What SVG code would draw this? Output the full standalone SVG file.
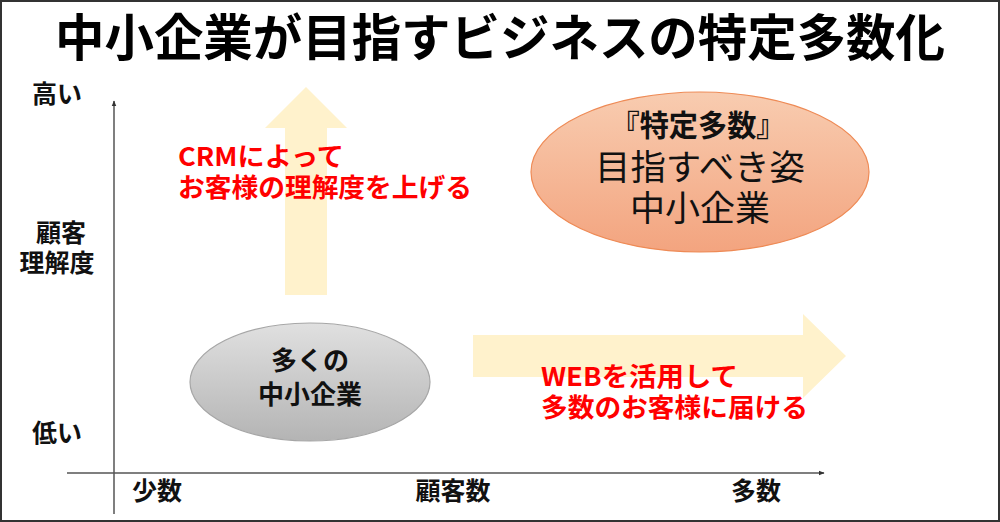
<svg xmlns="http://www.w3.org/2000/svg" width="1000" height="522" viewBox="0 0 1000 522">
  <defs>
    <linearGradient id="gOrange" x1="0" y1="0" x2="0" y2="1">
      <stop offset="0" stop-color="#F8CCB0"/>
      <stop offset="1" stop-color="#F3A47F"/>
    </linearGradient>
    <linearGradient id="gGray" x1="0" y1="0" x2="0" y2="1">
      <stop offset="0" stop-color="#E0E0E0"/>
      <stop offset="1" stop-color="#B4B4B4"/>
    </linearGradient>
    <marker id="ah" viewBox="0 0 10 10" refX="9" refY="5" markerWidth="6" markerHeight="6" orient="auto" markerUnits="userSpaceOnUse">
      <path d="M0,1 L10,5 L0,9 Z" fill="#333"/>
    </marker>
    <style>
      text { font-family: "Noto Sans CJK JP", "Liberation Sans", sans-serif; }
      .lbl { font-size: 25px; font-weight: bold; fill: #111; text-anchor: middle; }
      .red { font-size: 26px; font-weight: bold; fill: #FF0000; }
      .ell { font-size: 26px; font-weight: bold; fill: #111; text-anchor: middle; }
      .big { font-size: 35px; fill: #111; text-anchor: middle; }
      .axis { stroke: #555; stroke-width: 1.5; fill: none; }
      .fat { fill: #FFF2CC; }
    </style>
  </defs>
  <rect x="0" y="0" width="1000" height="522" fill="#FFFFFF"/>
  <rect x="1" y="1" width="998" height="520" fill="none" stroke="#333" stroke-width="2"/>

  <text x="500" y="56" text-anchor="middle" font-size="50" font-weight="bold" fill="#000" textLength="890" lengthAdjust="spacingAndGlyphs">中小企業が目指すビジネスの特定多数化</text>

  <g id="bigArrows">
    <path class="fat" d="M285,295 L285,128 L265,128 L306,87 L347,128 L327,128 L327,295 Z"/>
    <path class="fat" d="M473,335 L803,335 L803,314 L846,356 L803,398 L803,377 L473,377 Z"/>
  </g>

  <g id="connectors">
    <line class="axis" x1="114" y1="514" x2="114" y2="101" marker-end="url(#ah)"/>
    <line class="axis" x1="67" y1="473" x2="824" y2="473" marker-end="url(#ah)"/>
  </g>

  <g id="axisLabels">
    <text class="lbl" x="57" y="103">高い</text>
    <text class="lbl" x="61" y="242">顧客</text>
    <text class="lbl" x="57" y="272">理解度</text>
    <text class="lbl" x="57" y="442">低い</text>
    <text class="lbl" x="157" y="500">少数</text>
    <text class="lbl" x="453" y="500">顧客数</text>
    <text class="lbl" x="756" y="500">多数</text>
  </g>

  <g id="crmText">
    <text class="red" x="178" y="166" textLength="166" lengthAdjust="spacingAndGlyphs">CRMによって</text>
    <text class="red" x="178" y="197" textLength="294" lengthAdjust="spacingAndGlyphs">お客様の理解度を上げる</text>
  </g>

  <g id="webText">
    <text class="red" x="541" y="386" textLength="197" lengthAdjust="spacingAndGlyphs">WEBを活用して</text>
    <text class="red" x="541" y="417" textLength="267" lengthAdjust="spacingAndGlyphs">多数のお客様に届ける</text>
  </g>

  <g id="targetNode">
    <ellipse cx="700" cy="172" rx="169" ry="80" fill="url(#gOrange)" stroke="#EE8A55" stroke-width="1.2"/>
    <text x="698" y="136" text-anchor="middle" font-size="30" font-weight="bold" fill="#111" textLength="175" lengthAdjust="spacingAndGlyphs">『特定多数』</text>
    <text class="big" x="700" y="180" textLength="210" lengthAdjust="spacingAndGlyphs">目指すべき姿</text>
    <text class="big" x="700" y="221">中小企業</text>
  </g>

  <g id="manyNode">
    <ellipse cx="310" cy="382" rx="120" ry="59" fill="url(#gGray)" stroke="#A6A6A6" stroke-width="1.2"/>
    <text class="ell" x="310" y="370">多くの</text>
    <text class="ell" x="310" y="404">中小企業</text>
  </g>
</svg>
